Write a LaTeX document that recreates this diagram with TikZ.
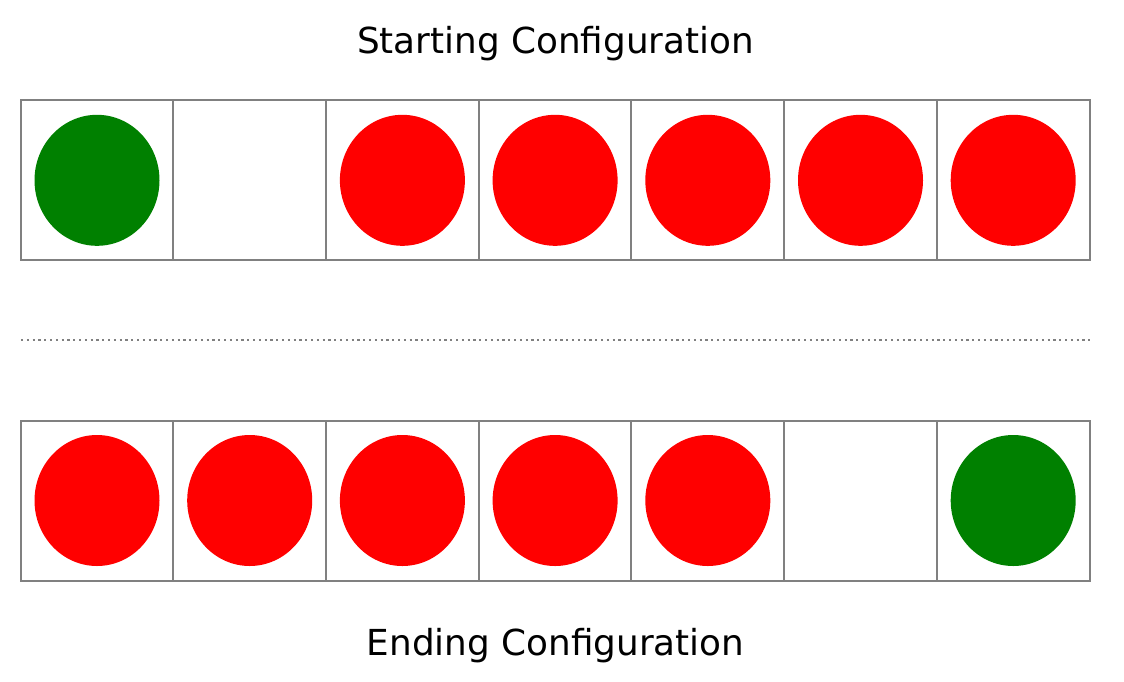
\documentclass[tikz,border=0pt]{standalone}
\usepackage{fontspec}
\setmainfont{DejaVu Sans}
\usetikzlibrary{shapes.geometric}

\begin{document}
\begin{tikzpicture}[x=1pt,y=-1pt]
      \tikzset{
        node distance=152.7pt,
        cell/.style={rectangle,draw=gray,line width=2pt,inner sep=0pt,minimum width=152.7pt,minimum height=160pt},
        red dot/.style={ellipse,fill=red,inner sep=0pt,minimum width=125pt,minimum height=131pt},
        green dot/.style={ellipse,fill={rgb,255:red,0;green,128;blue,0},inner sep=0pt,minimum width=125pt,minimum height=131pt},
        caption/.style={anchor=base,font=\fontsize{35.8}{43}\selectfont},
        sep line/.style={gray,line width=2.2pt,dash pattern=on 2.2pt off 3.6pt}
      }
      \useasboundingbox (0,0) rectangle (1124,681);

      \node[caption] (start) at (555.5,53) {Starting Configuration};
      \node[caption] (end) at (555.5,655) {Ending Configuration};

      \node[cell] (s1) at (97,180.3) {};
      \node[cell,right of=s1] (s2) {};
      \node[cell,right of=s2] (s3) {};
      \node[cell,right of=s3] (s4) {};
      \node[cell,right of=s4] (s5) {};
      \node[cell,right of=s5] (s6) {};
      \node[cell,right of=s6] (s7) {};

      \node[cell] (e1) at (97,500.5) {};
      \node[cell,right of=e1] (e2) {};
      \node[cell,right of=e2] (e3) {};
      \node[cell,right of=e3] (e4) {};
      \node[cell,right of=e4] (e5) {};
      \node[cell,right of=e5] (e6) {};
      \node[cell,right of=e6] (e7) {};

      \node[green dot] (sg) at (s1) {};
      \node[red dot] (sr3) at (s3) {};
      \node[red dot] (sr4) at (s4) {};
      \node[red dot] (sr5) at (s5) {};
      \node[red dot] (sr6) at (s6) {};
      \node[red dot] (sr7) at (s7) {};

      \node[red dot] (er1) at (e1) {};
      \node[red dot] (er2) at (e2) {};
      \node[red dot] (er3) at (e3) {};
      \node[red dot] (er4) at (e4) {};
      \node[red dot] (er5) at (e5) {};
      \node[green dot] (eg) at (e7) {};

      \coordinate (ml) at (21,340);
      \coordinate (mr) at (1090,340);
      \draw[sep line] (ml) -- (mr);
    \end{tikzpicture}
\end{document}
